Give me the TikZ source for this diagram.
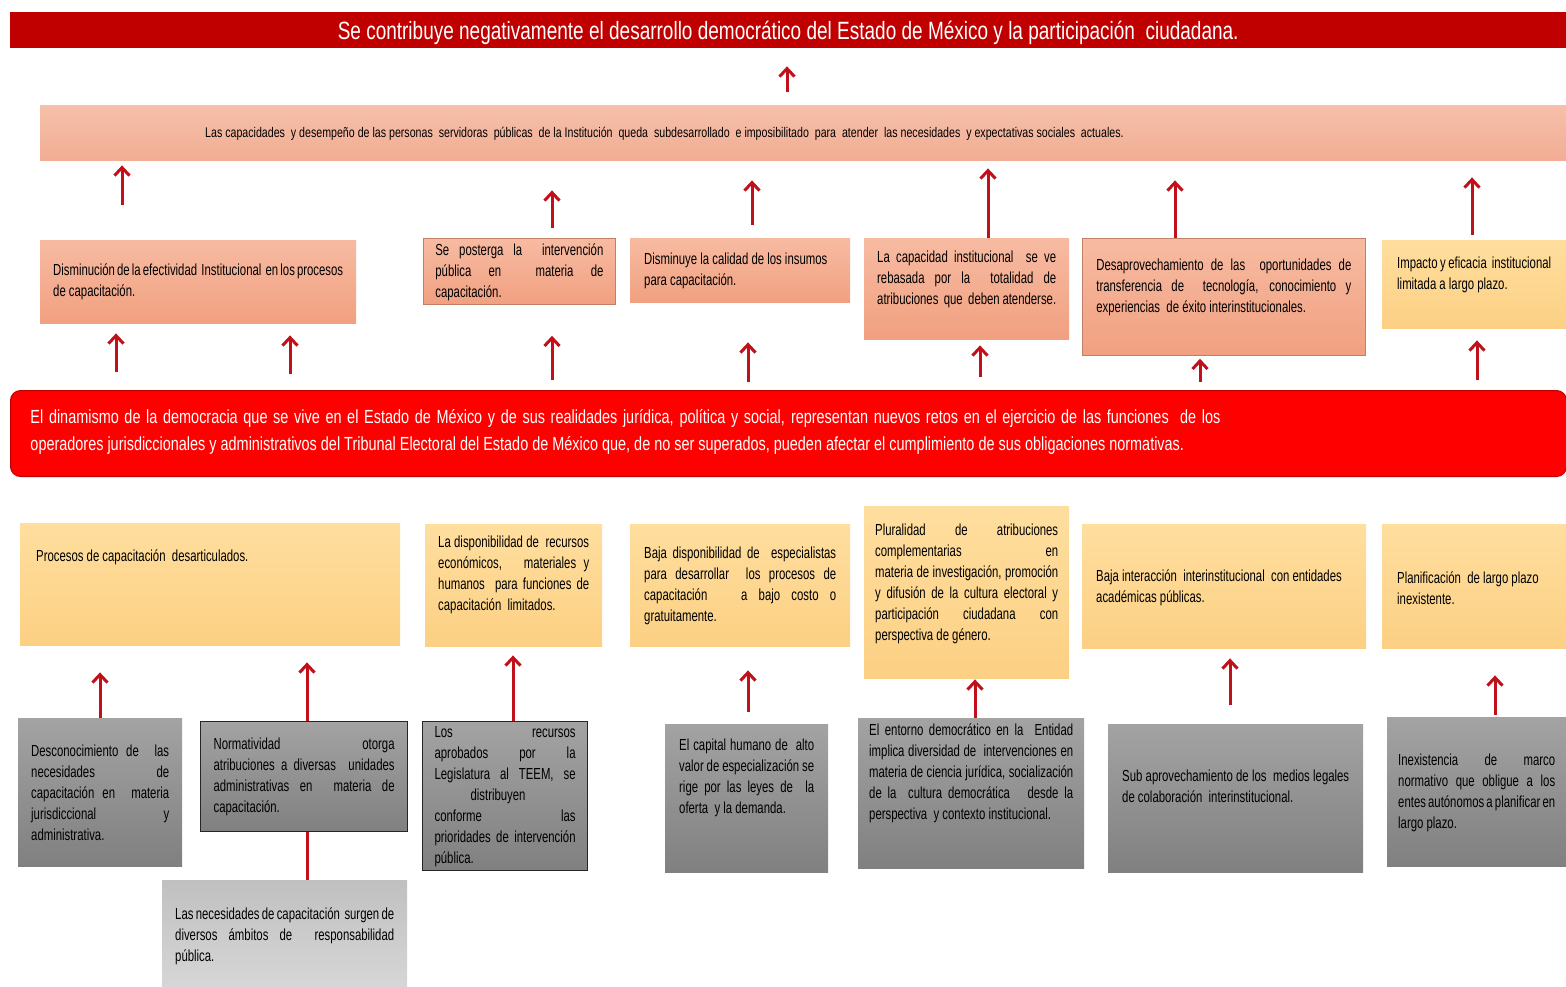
\documentclass[tikz,border=0pt]{standalone}
\usepackage{fontspec}
\setmainfont{Liberation Sans}[FakeStretch=0.76]
\newfontfamily\boxfont{Liberation Sans}[FakeStretch=0.71]
\usetikzlibrary{arrows.meta}
\definecolor{dred}{HTML}{C00000}
\definecolor{arrred}{HTML}{C0101A}
\definecolor{brightred}{HTML}{FF0000}
\definecolor{salT}{HTML}{F7BBA2}
\definecolor{salB}{HTML}{F1A080}
\definecolor{secT}{HTML}{F6C0AA}
\definecolor{secB}{HTML}{F2AD94}
\definecolor{yelT}{HTML}{FFDE9E}
\definecolor{yelB}{HTML}{FCD084}
\definecolor{grT}{HTML}{A3A3A3}
\definecolor{grB}{HTML}{808080}
\definecolor{lgT}{HTML}{C0C0C0}
\definecolor{lgB}{HTML}{D6D6D6}
\tolerance=10000
\hbadness=10000
\hfuzz=20pt
\hyphenpenalty=10000
\exhyphenpenalty=10000
\newcommand\bx[9]{%
 \pgfmathsetmacro\bw{#5-#3}\pgfmathsetmacro\bh{#6-#4}\pgfmathsetmacro\tw{#5-#3-2*#7}%
 \node[#2,anchor=north west,inner sep=0pt,minimum width=\bw pt,minimum height=\bh pt] (#1) at (#3,#4)
 {\vbox to \bh pt{\vskip #8pt\hbox to \bw pt{\hskip #7pt\parbox[t]{\tw pt}{#9}\hss}\vfil}};}
\newcommand\up[5]{%
 \coordinate (tmpx) at (#1,0);
 \draw[arr, shorten <=#4pt, shorten >=#5pt] (#2 -| tmpx) -- (#3 -| tmpx);}
\newcommand\lb{\linebreak}
\newcommand\fullline[1]{\makebox[\linewidth][s]{#1}\\}
\tikzset{
 arr/.style={draw=arrred, line width=3pt, -{Straight Barb[length=8pt,width=15pt]}},
 txt/.style={font=\boxfont\fontsize{16}{21}\selectfont, text=black},
 salbox/.style={txt, top color=salT, bottom color=salB},
 salboxb/.style={salbox, draw=salB!80!black, line width=0.8pt},
 secbox/.style={font=\fontsize{14}{18}\selectfont, top color=secT, bottom color=secB},
 yelbox/.style={txt, top color=yelT, bottom color=yelB},
 grbox/.style={txt, top color=grT, bottom color=grB},
 grboxb/.style={grbox, draw=black!85, line width=1.2pt},
 lgbox/.style={txt, top color=lgT, bottom color=lgB},
 titlebox/.style={fill=dred, text=white, font=\fontsize{25}{30}\selectfont},
 cenbox/.style={fill=brightred, draw=dred, line width=1pt, rounded corners=10pt, text=white, font=\fontsize{19}{27}\selectfont},
}
\begin{document}
\begin{tikzpicture}[x=1pt,y=-1pt]
\useasboundingbox (0,0) rectangle (1566,986);
% top effect
\node[titlebox, anchor=north west, minimum width=1556pt, minimum height=36pt, inner sep=0pt, text depth=2pt] (title) at (10,12)
 {\raisebox{-3pt}{Se contribuye negativamente el desarrollo democrático del Estado de México y la participación\ \ ciudadana.}};
\bx{sec}{secbox}{40}{105}{1566}{160}{165}{22}{Las capacidades\ \ y desempeño de las personas\ \ servidoras\ \ públicas\ \ de la Institución\ \ queda\ \ subdesarrollado\ \ e imposibilitado\ \ para\ \ atender\ \ las necesidades\ \ y expectativas sociales\ \ actuales.}
% effects
\bx{e1}{salbox}{40}{240}{356}{323}{13}{24}{Disminución de la efectividad\ \ Institucional\ \ en los procesos\lb de capacitación.}
\bx{e2}{salboxb}{423}{238}{615}{304}{12}{5}{Se posterga la\ \ intervención\lb pública en\ \ materia de\lb capacitación.}
\bx{e3}{salbox}{630}{238}{850}{302}{14}{15}{Disminuye la calidad de los insumos\\ para capacitación.}
\bx{e4}{salbox}{864}{238}{1069}{339}{13}{13}{La capacidad institucional\ \ se ve\lb rebasada por la\ \ totalidad de\lb atribuciones\ \ que\ \ deben atenderse.}
\bx{e5}{salboxb}{1082}{238}{1365}{355}{14}{20}{Desaprovechamiento de las\ \ oportunidades de\lb transferencia de\ \ tecnología, conocimiento y\lb experiencias\ \ de éxito interinstitucionales.}
\bx{e6}{yelbox}{1382}{240}{1566}{328}{15}{17}{Impacto y eficacia\ \ institucional\\ limitada a largo plazo.}
% central problem
\bx{cen}{cenbox}{10}{390}{1566}{476}{20}{19}{\makebox[1190pt][s]{El dinamismo de la democracia que se vive en el Estado de México y de sus realidades jurídica, política y social, representan nuevos retos en el ejercicio de las funciones\ \ de los}\\ operadores jurisdiccionales y administrativos del Tribunal Electoral del Estado de México que, de no ser superados, pueden afectar el cumplimiento de sus obligaciones normativas.}
% causes
\bx{c1}{yelbox}{20}{523}{400}{645}{16}{27}{Procesos de capacitación\ \ desarticulados.}
\bx{c2}{yelbox}{425}{524}{602}{646}{13}{12}{La disponibilidad de\ \ recursos\lb económicos,\ \ \ materiales y\lb humanos\ \ para funciones de\lb capacitación\ \ limitados.}
\bx{c3}{yelbox}{630}{524}{850}{646}{14}{23}{Baja disponibilidad de\ \ especialistas\lb para desarrollar\ \ los procesos de\lb capacitación\ \ \ a bajo costo o\lb gratuitamente.}
\bx{c4}{yelbox}{864}{506}{1069}{678}{11}{18}{Pluralidad de atribuciones\lb complementarias en\lb materia de investigación, promoción\lb y difusión de la cultura electoral y\lb participación\ \ ciudadana\ \ con\lb perspectiva de género.}
\bx{c5}{yelbox}{1082}{524}{1366}{648}{14}{46}{Baja interacción\ \ interinstitucional\ \ con entidades\\ académicas públicas.}
\bx{c6}{yelbox}{1382}{524}{1566}{648}{15}{48}{Planificación\ \ de largo plazo\\ inexistente.}
% root causes
\bx{g1}{grbox}{18}{718}{182}{866}{13}{27}{Desconocimiento de\ \ las\lb necesidades de\lb capacitación en\ \ materia\lb jurisdiccional y\lb administrativa.}
\bx{g2}{grboxb}{200}{721}{407}{831}{13}{16}{Normatividad otorga\lb atribuciones a diversas\ \ unidades\lb administrativas en\ \ materia de\lb capacitación.}
\bx{g3}{grboxb}{422}{721}{587}{870}{12}{5}{\fullline{Los recursos}\fullline{aprobados por la}\fullline{Legislatura al TEEM, se}\hspace*{36pt}distribuyen\\ \fullline{conforme las}\fullline{prioridades de intervención}pública.}
\bx{g4}{grbox}{665}{724}{828}{872}{14}{15}{El capital humano de\ \ alto\lb valor de especialización se\lb rige por las leyes de\ \ la\lb oferta\ \ y la demanda.}
\bx{g5}{grbox}{858}{718}{1084}{868}{11}{6}{El entorno democrático en la\ \ Entidad\lb implica diversidad de\ \ intervenciones en\lb materia de ciencia jurídica, socialización\lb de la\ \ cultura democrática\ \ \ desde la\lb perspectiva\ \ y contexto institucional.}
\bx{g6}{grbox}{1108}{724}{1363}{872}{14}{46}{Sub aprovechamiento de los\ \ medios legales\lb de colaboración\ \ interinstitucional.}
\bx{g7}{grbox}{1387}{717}{1566}{866}{11}{37}{Inexistencia de marco\lb normativo que obligue a los\lb entes autónomos a planificar en\lb largo plazo.}
\bx{lg}{lgbox}{162}{880}{407}{986}{13}{28}{Las necesidades de capacitación\ \ surgen de\lb diversos ámbitos de\ \ responsabilidad\lb pública.}
% arrows
\up{787}{sec.north}{title.south}{13}{18}
\up{122}{e1.north}{sec.south}{35}{5}
\up{552}{e2.north}{sec.south}{10}{30}
\up{752}{e3.north}{sec.south}{13}{20}
\up{988}{e4.north}{sec.south}{0}{8}
\up{1175}{e5.north}{sec.south}{0}{20}
\up{1472}{e6.north}{sec.south}{5}{17}
\up{116}{cen.north}{e1.south}{18}{10}
\up{290}{cen.north}{e1.south}{16}{12}
\up{552}{cen.north}{e2.south}{10}{31}
\up{748}{cen.north}{e3.south}{8}{40}
\up{980}{cen.north}{e4.south}{13}{6}
\up{1200}{cen.north}{e5.south}{8}{3}
\up{1477}{cen.north}{e6.south}{10}{12}
\up{100}{g1.north}{c1.south}{0}{27}
\up{307}{g2.north}{c1.south}{0}{17}
\up{513}{g3.north}{c2.south}{0}{9}
\up{748}{g4.north}{c3.south}{12}{24}
\up{975}{g5.north}{c4.south}{0}{1}
\up{1230}{g6.north}{c5.south}{19}{10}
\up{1495}{g7.north}{c6.south}{2}{27}
\coordinate (lx) at (307,0);
\draw[draw=arrred, line width=3pt] (g2.south -| lx) -- (lg.north -| lx);
\end{tikzpicture}
\end{document}
